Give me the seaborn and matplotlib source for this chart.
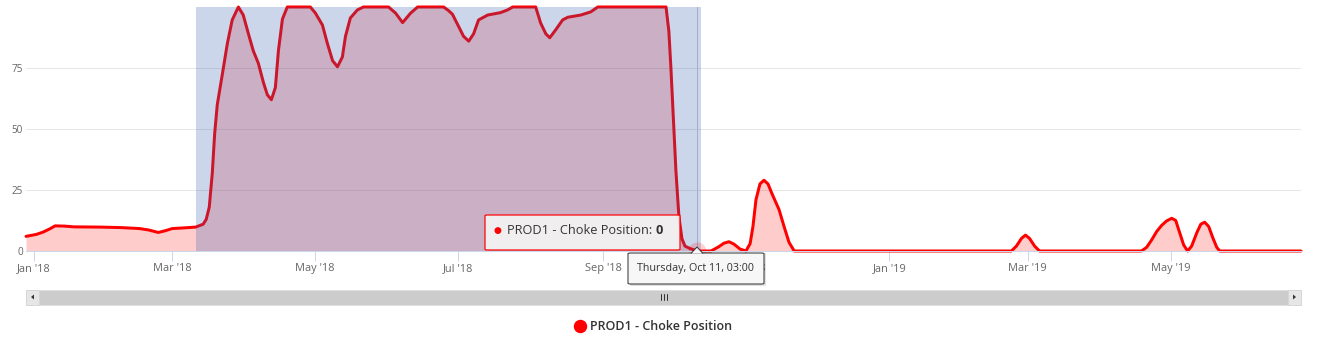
import matplotlib
matplotlib.use("Agg")
import matplotlib.pyplot as plt
import matplotlib.dates as mdates
from matplotlib.patches import Rectangle, FancyBboxPatch, Polygon
from matplotlib.lines import Line2D
import pandas as pd
import seaborn as sns

# ---- series data -------------------------------------------------------
timestamps = [
    "2017-12-28 14:00", "2018-01-02", "2018-01-05", "2018-01-08", "2018-01-10",
    "2018-01-14", "2018-01-18", "2018-01-29", "2018-02-07", "2018-02-15",
    "2018-02-19", "2018-02-23", "2018-02-26", "2018-03-01", "2018-03-06 12:00",
    "2018-03-11", "2018-03-14 05:00", "2018-03-15 12:00", "2018-03-16 19:00",
    "2018-03-18 02:00", "2018-03-19 02:00", "2018-03-20 05:00",
    "2018-03-22 07:00", "2018-03-24 12:00", "2018-03-26 14:00",
    "2018-03-29 05:00", "2018-03-31 07:00", "2018-04-02 12:00",
    "2018-04-04 14:00", "2018-04-06 17:00", "2018-04-08 22:00",
    "2018-04-10 14:00", "2018-04-12 07:00", "2018-04-14 00:00",
    "2018-04-15 07:00", "2018-04-17 00:00", "2018-04-19 02:00",
    "2018-04-28 22:00", "2018-05-01 02:00", "2018-05-04 02:00",
    "2018-05-06 05:00", "2018-05-08 10:00", "2018-05-10 12:00",
    "2018-05-12 14:00", "2018-05-13 22:00", "2018-05-16 00:00",
    "2018-05-19 00:00", "2018-05-21 14:00", "2018-06-01 07:00",
    "2018-06-04 07:00", "2018-06-07 07:00", "2018-06-10 17:00",
    "2018-06-13 17:00", "2018-06-24 19:00", "2018-06-26 22:00",
    "2018-06-28 14:00", "2018-07-01 05:00", "2018-07-03 07:00",
    "2018-07-05 12:00", "2018-07-07 14:00", "2018-07-09 17:00",
    "2018-07-13 14:00", "2018-07-19 02:00", "2018-07-22 02:00",
    "2018-07-24 07:00", "2018-08-03 02:00", "2018-08-05 05:00",
    "2018-08-07 10:00", "2018-08-09 02:00", "2018-08-11 14:00",
    "2018-08-14 14:00", "2018-08-16 19:00", "2018-08-22 07:00",
    "2018-08-26 14:00", "2018-08-29 14:00", "2018-09-27 17:00",
    "2018-09-28 22:00", "2018-09-29 19:00", "2018-10-01 02:00",
    "2018-10-01 22:00", "2018-10-03 05:00", "2018-10-04 12:00",
    "2018-10-05 19:00", "2018-10-08", "2018-10-11 03:00",
    "2018-10-16 22:00", "2018-10-20 07:00", "2018-10-22 10:00",
    "2018-10-24 14:00", "2018-10-26 17:00", "2018-10-29 07:00",
    "2018-10-31 19:00", "2018-11-02 14:00", "2018-11-03 19:00",
    "2018-11-05 02:00", "2018-11-06 19:00", "2018-11-08 12:00",
    "2018-11-10 05:00", "2018-11-11 22:00", "2018-11-14 22:00",
    "2018-11-17 02:00", "2018-11-19 05:00", "2018-11-21 10:00",
    "2019-02-22 02:00", "2019-02-24 05:00", "2019-02-26 10:00",
    "2019-02-28 02:00", "2019-03-01 19:00", "2019-03-04 00:00",
    "2019-03-06 02:00", "2019-04-18 14:00", "2019-04-20 19:00",
    "2019-04-22 22:00", "2019-04-25 02:00", "2019-04-27 05:00",
    "2019-04-29 07:00", "2019-05-01 12:00", "2019-05-03 05:00",
    "2019-05-04 22:00", "2019-05-06 14:00", "2019-05-08 07:00",
    "2019-05-10 00:00", "2019-05-12 05:00", "2019-05-13 22:00",
    "2019-05-15 14:00", "2019-05-17 07:00", "2019-05-19 00:00",
    "2019-05-20 17:00", "2019-05-22 00:00", "2019-06-25 16:00",
]
choke_position = [
    6.0, 6.8, 7.8, 9.2, 10.3,
    10.2, 9.9, 9.8, 9.6, 9.2,
    8.6, 7.6, 8.3, 9.2, 9.5,
    9.8, 11.0, 13.0, 18.0,
    32.0, 48.0, 60.0,
    72.0, 85.0, 94.7,
    100.0, 96.7, 89.0,
    82.0, 77.0, 69.0,
    64.0, 62.0, 67.0,
    82.0, 95.0, 100.0,
    100.0, 97.5, 92.6,
    85.0, 78.0, 75.5,
    79.5, 88.0, 95.5,
    98.8, 100.0, 100.0,
    97.5, 93.6, 97.5,
    100.0, 100.0, 98.5,
    97.0, 92.0, 88.0,
    86.0, 89.0, 94.7,
    96.7, 97.7, 98.8,
    100.0, 100.0, 93.4,
    89.0, 87.4, 90.6,
    94.7, 95.8, 96.7,
    98.0, 100.0, 100.0,
    90.0, 75.0, 50.0,
    33.0, 14.0, 5.0,
    2.0, 1.0, 0.0,
    0.0, 1.8, 3.2,
    3.8, 2.8, 0.8,
    0.0, 3.0, 10.0,
    21.0, 27.5, 29.0,
    27.5, 23.5, 17.0,
    10.0, 3.5, 0.0,
    0.0, 2.0, 5.2,
    6.5, 5.2, 2.0,
    0.0, 0.0, 1.5,
    4.5, 8.0, 10.5,
    12.3, 13.4, 12.5,
    7.5, 2.5, 0.0,
    2.0, 7.5, 11.0,
    11.8, 10.0, 5.5,
    1.5, 0.0, 0.0,
]

series_name = "PROD1 - Choke Position"
x_start, x_end = "2017-12-28 14:00", "2019-06-25 16:00"
zoom_start, zoom_end = "2018-03-11 04:00", "2018-10-12 18:00"
hover_time = "2018-10-11 03:00"
y_ticks = [0, 25, 50, 75]

# ---- figure --------------------------------------------------------------
W, H, DPI = 1320, 347, 100
sns.set_theme(style="white")
plt.rcParams["font.family"] = ["Open Sans", "DejaVu Sans"]


def fx(px):
    return px / W


def fy(py):
    return 1 - py / H


def pt(px):
    return px * 72 / DPI


df = pd.DataFrame({"time": pd.to_datetime(timestamps, format="ISO8601"),
                   "choke": choke_position})
hover = df[df["time"] == pd.Timestamp(hover_time)].iloc[0]

fig = plt.figure(figsize=(W / DPI, H / DPI), dpi=DPI, facecolor="white")
ax = fig.add_axes([fx(26), fy(251), fx(1301 - 26), (251 - 7) / H])
ax.set_facecolor("white")

RED = "#ff0000"
ax.fill_between(df["time"], df["choke"], 0, color=RED, alpha=0.2,
                linewidth=0, zorder=2)
sns.lineplot(data=df, x="time", y="choke", ax=ax, color=RED,
             linewidth=pt(3), zorder=3, legend=False)
for ln in ax.lines:
    ln.set_clip_on(False)
    ln.set_solid_joinstyle("round")
    ln.set_solid_capstyle("round")

# crosshair and hover halo
ax.axvline(pd.Timestamp(hover_time), color="#cccccc", linewidth=pt(1), zorder=4)
ax.scatter([hover["time"]], [hover["choke"]], s=pt(18) ** 2, color=RED,
           alpha=0.18, linewidths=0, zorder=6, clip_on=False)

# selected range band
ax.axvspan(pd.Timestamp(zoom_start), pd.Timestamp(zoom_end),
           color=(51 / 255, 92 / 255, 173 / 255), alpha=0.25, linewidth=0,
           zorder=5)

ax.set_xlim(pd.Timestamp(x_start), pd.Timestamp(x_end))
ax.set_ylim(0, 100)
ax.set_xlabel("")
ax.set_ylabel("")
ax.set_yticks(y_ticks)
ax.yaxis.grid(True, color="#e6e6e6", linewidth=pt(1), zorder=0)
ax.xaxis.grid(False)
ax.set_axisbelow(True)

ax.xaxis.set_major_locator(mdates.MonthLocator(bymonth=[1, 3, 5, 7, 9, 11]))
ax.xaxis.set_major_formatter(mdates.DateFormatter("%b '%y"))
ax.tick_params(axis="x", direction="out", length=pt(10), width=pt(1),
               color="#ccd6eb", labelcolor="#666666", labelsize=pt(11),
               pad=pt(2), bottom=True)
ax.tick_params(axis="y", length=0, labelcolor="#666666", labelsize=pt(10),
               pad=pt(3), left=False)

for side in ("top", "right", "left"):
    ax.spines[side].set_visible(False)
ax.spines["bottom"].set_color("#ccd6eb")
ax.spines["bottom"].set_linewidth(pt(1))
ax.spines["bottom"].set_zorder(7)

# ---- tooltip ---------------------------------------------------------------
tip = FancyBboxPatch((fx(485), fy(250)), fx(195), (250 - 215) / H,
                     boxstyle="round,pad=0,rounding_size=0.002",
                     transform=fig.transFigure, facecolor=(0.97, 0.97, 0.97, 0.88),
                     edgecolor=RED, linewidth=pt(1.2))
fig.patches.append(tip)
fig.text(fx(497), fy(231), "\u25cf", color=RED, fontsize=pt(9),
         ha="center", va="center", family=["DejaVu Sans"])
label = fig.text(fx(507), fy(231), f"{series_name}: ", color="#333333",
                 fontsize=pt(12.8), ha="left", va="center")

# date label under the crosshair
shadow = FancyBboxPatch((fx(630), fy(286)), fx(136), (286 - 253) / H,
                        boxstyle="round,pad=0,rounding_size=0.002",
                        transform=fig.transFigure, facecolor=(0, 0, 0, 0.12),
                        edgecolor="none")
fig.patches.append(shadow)
date_box = FancyBboxPatch((fx(628), fy(284)), fx(136), (284 - 253) / H,
                          boxstyle="round,pad=0,rounding_size=0.002",
                          transform=fig.transFigure, facecolor="#f7f7f7",
                          edgecolor="#333333", linewidth=pt(1))
fig.patches.append(date_box)
notch = Polygon([(fx(691), fy(253.5)), (fx(697), fy(247)), (fx(703), fy(253.5))],
                closed=False, transform=fig.transFigure, facecolor="#f7f7f7",
                edgecolor="#333333", linewidth=pt(1))
fig.patches.append(notch)
fig.text(fx(695.5), fy(268), pd.Timestamp(hover_time).strftime("%A, %b %d, %H:%M"),
         color="#333333", fontsize=pt(10.7), ha="center", va="center")

# ---- scrollbar ------------------------------------------------------------
def frect(x0, y0, x1, y1, **kw):
    r = Rectangle((fx(x0), fy(y1)), fx(x1 - x0), (y1 - y0) / H,
                  transform=fig.transFigure, **kw)
    fig.patches.append(r)


frect(26, 289.5, 1301, 304.5, facecolor="#cccccc", edgecolor="#e0e0e0",
      linewidth=pt(1))
frect(26, 289.5, 39, 304.5, facecolor="#e6e6e6", edgecolor="#d6d6d6",
      linewidth=pt(1))
frect(1288, 289.5, 1301, 304.5, facecolor="#e6e6e6", edgecolor="#d6d6d6",
      linewidth=pt(1))
fig.patches.append(Polygon([(fx(31), fy(297)), (fx(34), fy(294.5)), (fx(34), fy(299.5))],
                           transform=fig.transFigure, facecolor="#333333",
                           edgecolor="none"))
fig.patches.append(Polygon([(fx(1296), fy(297)), (fx(1293), fy(294.5)), (fx(1293), fy(299.5))],
                           transform=fig.transFigure, facecolor="#333333",
                           edgecolor="none"))
for gx in (660.5, 663.5, 666.5):
    fig.lines.append(Line2D([fx(gx), fx(gx)], [fy(294), fy(300)],
                            transform=fig.transFigure, color="#333333",
                            linewidth=pt(1)))

# ---- legend -----------------------------------------------------------
handle = Line2D([], [], marker="o", linestyle="", color=RED,
                markersize=pt(12))
fig.legend([handle], [series_name], loc="center",
           bbox_to_anchor=(fx(653), fy(327)), frameon=False,
           prop={"size": pt(12.5), "weight": "semibold"},
           labelcolor="#333333", handletextpad=0.3, handlelength=1.0)

# bold value placed right after the tooltip label
fig.canvas.draw()
bb = label.get_window_extent()
fig.text(bb.x1 / W, fy(231), f"{hover['choke']:.0f}", color="#333333",
         fontsize=pt(12.8), fontweight="bold", ha="left", va="center")

fig.savefig("out.png", dpi=DPI, facecolor="white")
